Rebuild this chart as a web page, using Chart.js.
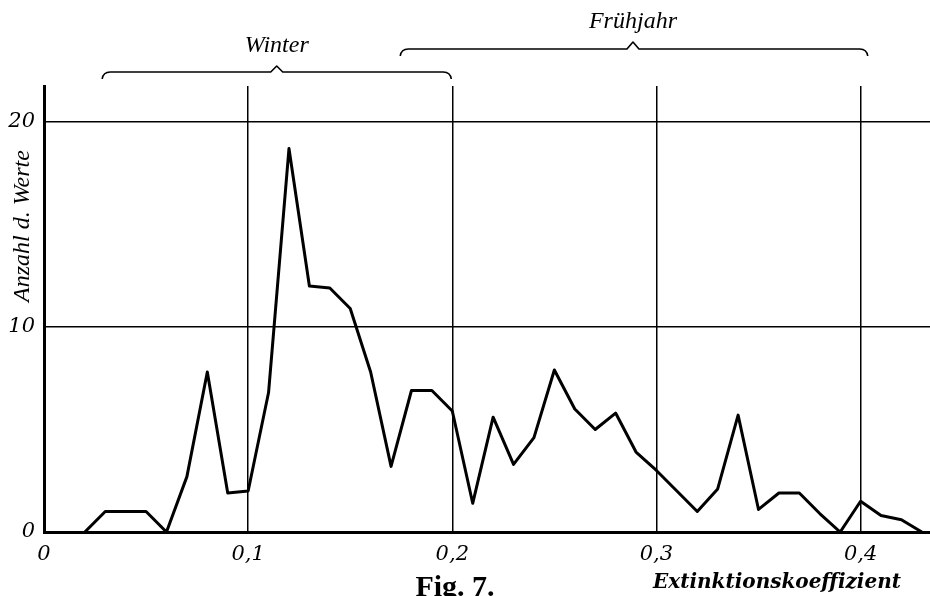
<!DOCTYPE html>
<html>
<head>
<meta charset="utf-8">
<script src="https://cdn.jsdelivr.net/npm/chart.js@4/dist/chart.umd.min.js"></script>
<style>
  body { margin: 0; background: #fff; }
  #wrap { width: 930px; height: 596px; }
</style>
</head>
<body>
<div id="wrap"><canvas id="myChart" width="930" height="596"></canvas></div>
<script>
// Extinktionskoeffizient (x) and Anzahl d. Werte (y)
const extinction = [0.02, 0.03, 0.04, 0.05, 0.06, 0.07, 0.08, 0.09, 0.10, 0.11,
    0.12, 0.13, 0.14, 0.15, 0.16, 0.17, 0.18, 0.19, 0.20, 0.21,
    0.22, 0.23, 0.24, 0.25, 0.26, 0.27, 0.28, 0.29, 0.30, 0.31,
    0.32, 0.33, 0.34, 0.35, 0.36, 0.37, 0.38, 0.39, 0.40, 0.41,
    0.42, 0.43];
const counts = [0, 1, 1, 1, 0, 2.7, 7.8, 1.9, 2.0, 6.8,
    18.7, 12.0, 11.9, 10.9, 7.8, 3.2, 6.9, 6.9, 5.9, 1.4,
    5.6, 3.3, 4.6, 7.9, 6.0, 5.0, 5.8, 3.9, 3.0, 2.0,
    1.0, 2.1, 5.7, 1.1, 1.9, 1.9, 0.9, 0, 1.5, 0.8,
    0.6, 0];

const xTickValues = [0, 0.1, 0.2, 0.3, 0.4];
const yTickValues = [0, 10, 20];

// season brackets above the plot (in x units)
const seasons = ['Winter', 'Frühjahr'];
const seasonFrom = [0.0285, 0.1745];
const seasonTo = [0.1995, 0.4035];
const seasonTip = [0.114, 0.2885];

const xTitle = 'Extinktionskoeffizient';
const yTitle = 'Anzahl d. Werte';
const figLabel = 'Fig. 7.';

const points = extinction.map((x, i) => ({ x: x, y: counts[i] }));

const bracketStyle = [
    { lineY: 72, tipY: 66, endY: 79, textY: 52 },
    { lineY: 49, tipY: 42, endY: 56, textY: 28 },
];

const extras = {
    id: 'extras',
    afterDraw(chart) {
        const ctx = chart.ctx;
        const xs = chart.scales.x;
        ctx.save();
        ctx.fillStyle = '#000';
        ctx.strokeStyle = '#000';
        ctx.lineWidth = 1.6;
        ctx.lineJoin = 'round';

        seasons.forEach((name, i) => {
            const s = bracketStyle[i];
            const x1 = xs.getPixelForValue(seasonFrom[i]);
            const x2 = xs.getPixelForValue(seasonTo[i]);
            const xt = xs.getPixelForValue(seasonTip[i]);
            ctx.beginPath();
            ctx.moveTo(x1, s.endY);
            ctx.quadraticCurveTo(x1 + 1, s.lineY, x1 + 8, s.lineY);
            ctx.lineTo(xt - 6, s.lineY);
            ctx.lineTo(xt, s.tipY);
            ctx.lineTo(xt + 6, s.lineY);
            ctx.lineTo(x2 - 8, s.lineY);
            ctx.quadraticCurveTo(x2 - 1, s.lineY, x2, s.endY);
            ctx.stroke();

            ctx.font = 'italic 24px "Liberation Serif"';
            ctx.textAlign = 'center';
            ctx.textBaseline = 'alphabetic';
            ctx.fillText(name, xt, s.textY);
        });

        // y title, placed between 10 and 20 as in the original
        ctx.save();
        ctx.translate(29, 226);
        ctx.rotate(-Math.PI / 2);
        ctx.font = 'italic 24px "Liberation Serif"';
        ctx.textAlign = 'center';
        ctx.textBaseline = 'alphabetic';
        ctx.fillText(yTitle, 0, 0);
        ctx.restore();

        ctx.font = 'bold italic 20px "DejaVu Serif"';
        ctx.textAlign = 'center';
        ctx.fillText(xTitle, 777, 588);

        ctx.font = 'bold 30px "Liberation Serif"';
        ctx.fillText(figLabel, 455, 596);
        ctx.restore();
    }
};

const data = {
    datasets: [{
        data: points,
        borderColor: '#000',
        borderWidth: 3,
        borderJoinStyle: 'round',
        pointRadius: 0,
        tension: 0,
        fill: false,
    }],
};

const config = {
    type: 'line',
    data: data,
    plugins: [extras],
    options: {
        responsive: false,
        animation: false,
        layout: { padding: { top: 86, left: 0, right: 0, bottom: 0 } },
        plugins: {
            legend: { display: false },
            tooltip: { enabled: false },
        },
        scales: {
            x: {
                type: 'linear',
                min: 0,
                max: 0.434,
                afterBuildTicks: (scale) => { scale.ticks = xTickValues.map(v => ({ value: v })); },
                afterFit: (scale) => { scale.height = 64; },
                grid: { color: '#000', lineWidth: 1.5, drawTicks: false },
                border: { color: '#000', width: 3 },
                ticks: {
                    padding: 10,
                    color: '#000',
                    maxRotation: 0,
                    font: { family: 'DejaVu Serif', style: 'italic', size: 21 },
                    callback: (v) => v === 0 ? '0' : v.toFixed(1).replace('.', ','),
                },
            },
            y: {
                min: 0,
                max: 21.75,
                afterBuildTicks: (scale) => { scale.ticks = yTickValues.map(v => ({ value: v })); },
                afterFit: (scale) => { scale.width = 44; },
                grid: { color: '#000', lineWidth: 1.5, drawTicks: false },
                border: { color: '#000', width: 3 },
                ticks: {
                    padding: 9,
                    color: '#000',
                    font: { family: 'DejaVu Serif', style: 'italic', size: 21 },
                },
            },
        },
    },
};

const myChart = new Chart(document.getElementById('myChart'), config);
</script>
</body>
</html>
